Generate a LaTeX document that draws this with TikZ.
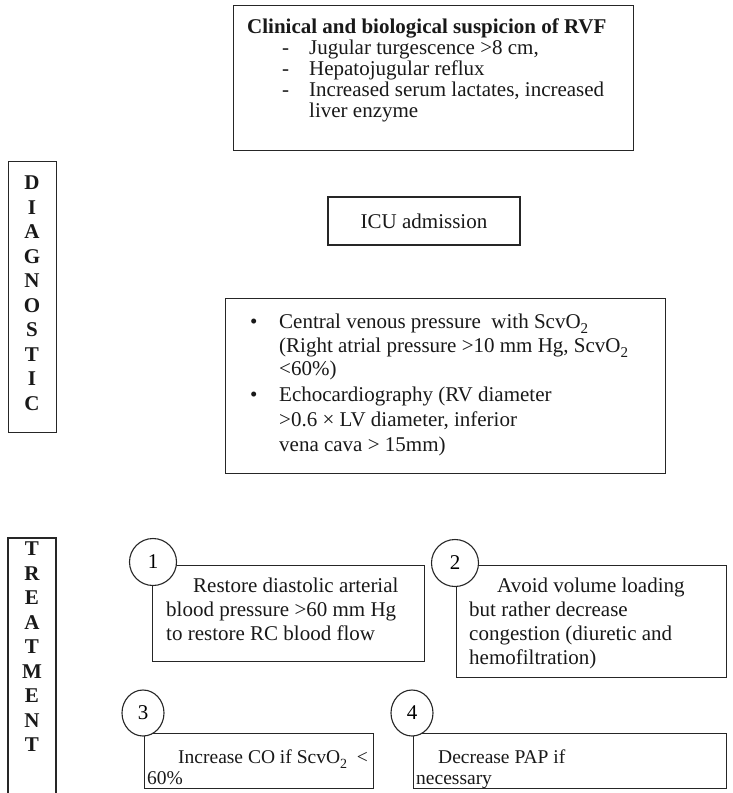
\documentclass[tikz,border=0pt]{standalone}
\usepackage{fontspec}
\setmainfont{Liberation Serif}
\usetikzlibrary{shapes.geometric}
% lowered subscript two, as in ScvO2
\newcommand{\subtwo}{\raisebox{-5pt}{\fontsize{15}{15}\selectfont 2}}
\newcommand{\smallsubtwo}{\raisebox{-5pt}{\fontsize{14}{14}\selectfont 2}}
\begin{document}
\begin{tikzpicture}[x=1pt,y=-1pt,
  frame/.style={draw=black!85, line width=1.1pt, inner sep=0},
  line/.style={anchor=base west, inner sep=0, text=black!90, font=\fontsize{21}{24}\selectfont},
  smallline/.style={line, font=\fontsize{19.5}{22}\selectfont},
  numcirc/.style={circle, draw=black!85, line width=1.1pt, fill=white, minimum size=47pt, inner sep=0, font=\fontsize{21}{24}\selectfont},
  numoval/.style={ellipse, draw=black!85, line width=1.1pt, fill=white, minimum width=42pt, minimum height=46pt, inner sep=0, font=\fontsize{21}{24}\selectfont},
  stack/.style={anchor=north, align=center, inner sep=0, text=black!90, font=\fontsize{21}{24.5}\selectfont\bfseries},
]
\fill[white] (0,0) rectangle (732,793);
\useasboundingbox (0,0) rectangle (732,793);

% --- clinical suspicion
\node[frame, anchor=north west, minimum width=400pt, minimum height=145pt] (susp) at (233,5) {};
\node[line] (susp0) at (247,33) {\bfseries Clinical and biological suspicion of RVF};
\node[line] (susp1) at (282,54) {\makebox[27pt][l]{-}Jugular turgescence >8 cm,};
\node[line] (susp2) at (282,75) {\makebox[27pt][l]{-}Hepatojugular reflux};
\node[line] (susp3) at (282,96) {\makebox[27pt][l]{-}Increased serum lactates, increased};
\node[line] (susp4) at (309,117) {liver enzyme};

% --- section labels
\node[frame, anchor=north west, minimum width=48pt, minimum height=271pt] (diagbox) at (8,161) {};
\node[stack] (diag) at (32,176) {D\\I\\A\\G\\N\\O\\S\\T\\I\\C};

\coordinate (tbl) at (8,800);
\coordinate (tbr) at (56,800);
\draw[draw=black!85, line width=1.1pt] (tbl) -- (8,538) -- (56,538) -- (tbr);
\node[stack] (treat) at (32,542) {T\\R\\E\\A\\T\\M\\E\\N\\T};

% --- ICU admission
\node[frame, minimum width=192pt, minimum height=48pt, font=\fontsize{21}{24}\selectfont, text=black!90] (icu) at (424,221) {ICU admission};

% --- monitoring
\node[frame, anchor=north west, minimum width=440pt, minimum height=175pt] (mon) at (225,298) {};
\node[line] (mon1) at (250,328) {\makebox[29pt][l]{\textbullet}Central venous pressure\ \ with ScvO\subtwo};
\node[line] (mon2) at (279,352) {(Right atrial pressure >10 mm Hg, ScvO\subtwo};
\node[line] (mon3) at (279,375) {<60\%)};
\node[line] (mon4) at (250,401) {\makebox[29pt][l]{\textbullet}Echocardiography (RV diameter};
\node[line] (mon5) at (279,426) {>0.6 × LV diameter, inferior};
\node[line] (mon6) at (279,451) {vena cava > 15mm)};

% --- treatment 1
\node[frame, anchor=north west, minimum width=272pt, minimum height=96pt] (t1) at (152,565) {};
\node[numcirc] (c1) at (153,562) {1};
\node[line] (t1a) at (193,592) {Restore diastolic arterial};
\node[line] (t1b) at (166,616) {blood pressure >60 mm Hg};
\node[line] (t1c) at (166,640) {to restore RC blood flow};

% --- treatment 2
\node[frame, anchor=north west, minimum width=270pt, minimum height=112pt] (t2) at (456,565) {};
\node[numcirc] (c2) at (455,563) {2};
\node[line] (t2a) at (497,592) {Avoid volume loading};
\node[line] (t2b) at (469,616) {but rather decrease};
\node[line] (t2c) at (469,640) {congestion (diuretic and};
\node[line] (t2d) at (469,664) {hemofiltration)};

% --- treatment 3
\node[frame, anchor=north west, minimum width=229pt, minimum height=55pt] (t3) at (144,733) {};
\node[numoval] (c3) at (143,713) {3};
\node[smallline] (t3a) at (178,763) {Increase CO if ScvO\smallsubtwo\ \ <};
\node[smallline] (t3b) at (147,784) {60\%};

% --- treatment 4
\node[frame, anchor=north west, minimum width=313pt, minimum height=55pt] (t4) at (413,733) {};
\node[numoval] (c4) at (412,713) {4};
\node[smallline] (t4a) at (438,763) {Decrease PAP if};
\node[smallline] (t4b) at (416,784) {necessary};
\end{tikzpicture}
\end{document}
